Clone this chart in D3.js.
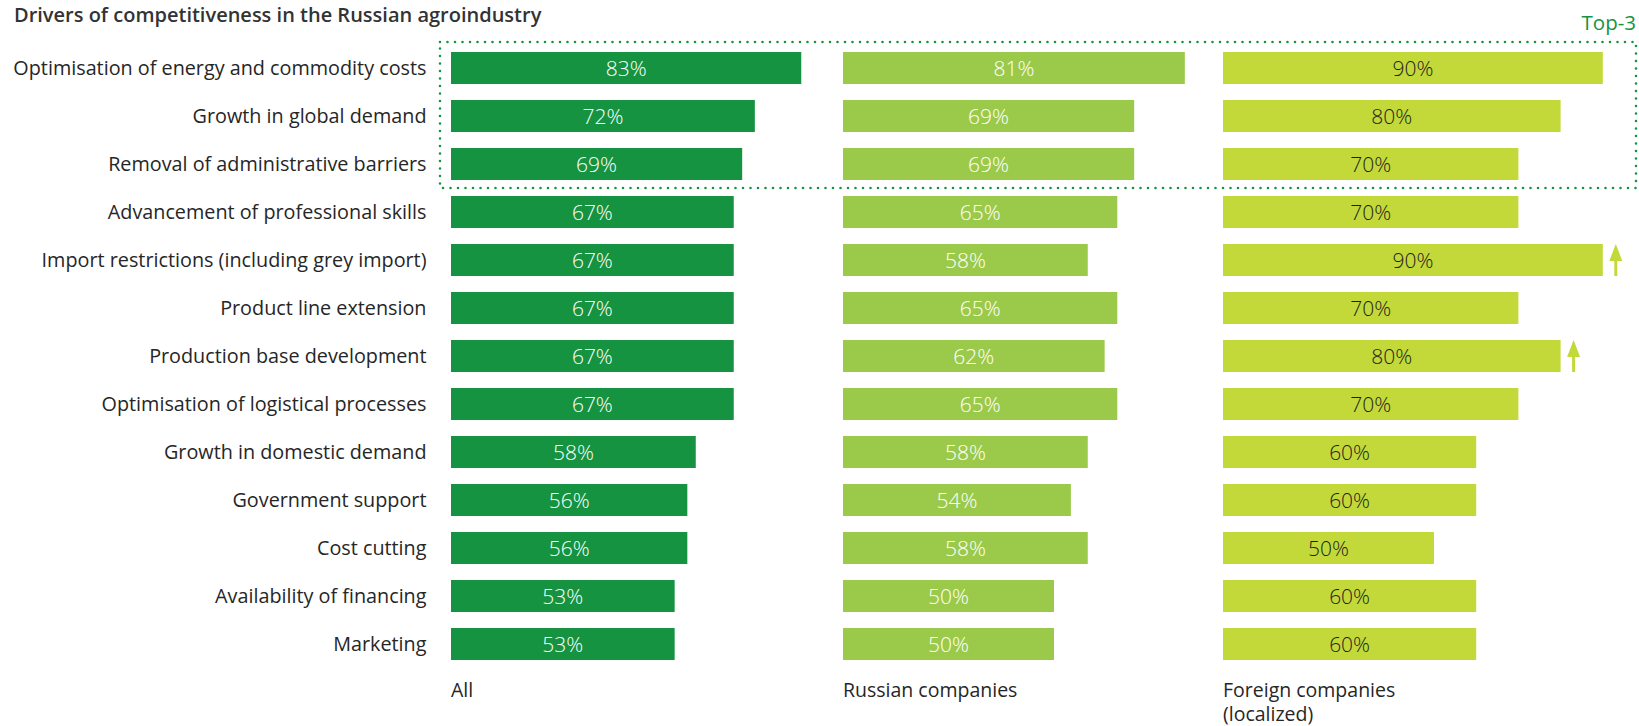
<!DOCTYPE html>
<html>
<head>
<meta charset="utf-8">
<script src="https://cdn.jsdelivr.net/npm/d3@7"></script>
<style>
  html, body { margin: 0; padding: 0; background: #ffffff; }
  svg { display: block; font-family: "Open Sans", "Noto Sans", sans-serif; }
</style>
</head>
<body>
<svg id="chart" width="1639" height="726"></svg>
<script>
// Survey results: share of respondents naming each driver
const categories = [
  "Optimisation of energy and commodity costs",
  "Growth in global demand",
  "Removal of administrative barriers",
  "Advancement of professional skills",
  "Import restrictions (including grey import)",
  "Product line extension",
  "Production base development",
  "Optimisation of logistical processes",
  "Growth in domestic demand",
  "Government support",
  "Cost cutting",
  "Availability of financing",
  "Marketing"
];
const allValues     = [83, 72, 69, 67, 67, 67, 67, 67, 58, 56, 56, 53, 53];
const russianValues = [81, 69, 69, 65, 58, 65, 62, 65, 58, 54, 58, 50, 50];
const foreignValues = [90, 80, 70, 70, 90, 70, 80, 70, 60, 60, 50, 60, 60];
const groupNames = ["All", "Russian companies", "Foreign companies\n(localized)"];
// Drivers whose importance is rising among foreign companies
const risingForeign = ["Import restrictions (including grey import)", "Production base development"];
const topCount = 3;
const topLabel = "Top-3";
const chartTitle = "Drivers of competitiveness in the Russian agroindustry";

const svg = d3.select("#chart");

const groups = [
  { name: groupNames[0], values: allValues,     x0: 451,  fill: "#169340", text: "#ffffff" },
  { name: groupNames[1], values: russianValues, x0: 843,  fill: "#9bca4b", text: "#ffffff" },
  { name: groupNames[2], values: foreignValues, x0: 1223, fill: "#c3d939", text: "#1e1e1e" }
];

const y = d3.scaleBand()
  .domain(categories)
  .range([44, 44 + 48 * categories.length])
  .paddingInner(1 / 3)
  .paddingOuter(1 / 6);

const w = d3.scaleLinear().domain([0, 100]).range([0, 422]);

// Title
svg.append("text")
  .attr("x", 14).attr("y", 22)
  .attr("font-size", 20).attr("font-weight", 600)
  .attr("fill", "#333333")
  .text(chartTitle);

// Category labels
svg.append("g").selectAll("text")
  .data(categories)
  .join("text")
  .attr("x", 426.5)
  .attr("y", d => y(d) + y.bandwidth() / 2)
  .attr("dy", "0.35em")
  .attr("text-anchor", "end")
  .attr("font-size", 19.8)
  .attr("fill", "#262626")
  .text(d => d);

// Bars and value labels for each respondent group
groups.forEach(g => {
  const data = categories.map((c, i) => ({ c, v: g.values[i] }));
  const layer = svg.append("g");
  layer.selectAll("rect")
    .data(data)
    .join("rect")
    .attr("x", g.x0)
    .attr("y", d => y(d.c))
    .attr("width", d => w(d.v))
    .attr("height", y.bandwidth())
    .attr("fill", g.fill);
  layer.selectAll("text")
    .data(data)
    .join("text")
    .attr("x", d => g.x0 + w(d.v) / 2)
    .attr("y", d => y(d.c) + y.bandwidth() / 2)
    .attr("dy", "0.36em")
    .attr("text-anchor", "middle")
    .attr("font-size", 21)
    .attr("font-weight", 300)
    .attr("fill", g.text)
    .text(d => d.v + "%");

  // Group name under the column, one text per line
  g.name.split("\n").forEach((ln, i) => {
    svg.append("text")
      .attr("x", g.x0)
      .attr("y", 697 + i * 24)
      .attr("font-size", 19.5)
      .attr("fill", "#262626")
      .text(ln);
  });
});

// Upward arrows next to rising foreign drivers
const foreign = groups[2];
risingForeign.forEach(c => {
  const v = foreign.values[categories.indexOf(c)];
  const cx = foreign.x0 + w(v) + 13;
  const top = y(c);
  const bottom = y(c) + y.bandwidth();
  const a = svg.append("g").attr("fill", foreign.fill);
  a.append("rect")
    .attr("x", cx - 1.5).attr("y", top + 14)
    .attr("width", 3).attr("height", bottom - top - 14);
  a.append("path")
    .attr("d", `M${cx},${top} L${cx + 6.5},${top + 17} L${cx - 6.5},${top + 17} Z`);
});

// Dotted frame around the top drivers
const topCats = categories.slice(0, topCount);
const frameTop = y(topCats[0]) - 10;
const frameBottom = y(topCats[topCount - 1]) + y.bandwidth() + 8;
svg.append("rect")
  .attr("x", 440).attr("y", frameTop)
  .attr("width", 1636 - 440).attr("height", frameBottom - frameTop)
  .attr("fill", "none")
  .attr("stroke", "#169340")
  .attr("stroke-width", 2.6)
  .attr("stroke-linecap", "round")
  .attr("stroke-dasharray", "0 7.5");

svg.append("text")
  .attr("x", 1636).attr("y", 30)
  .attr("text-anchor", "end")
  .attr("font-size", 20.5)
  .attr("fill", "#169340")
  .text(topLabel);
</script>
</body>
</html>
